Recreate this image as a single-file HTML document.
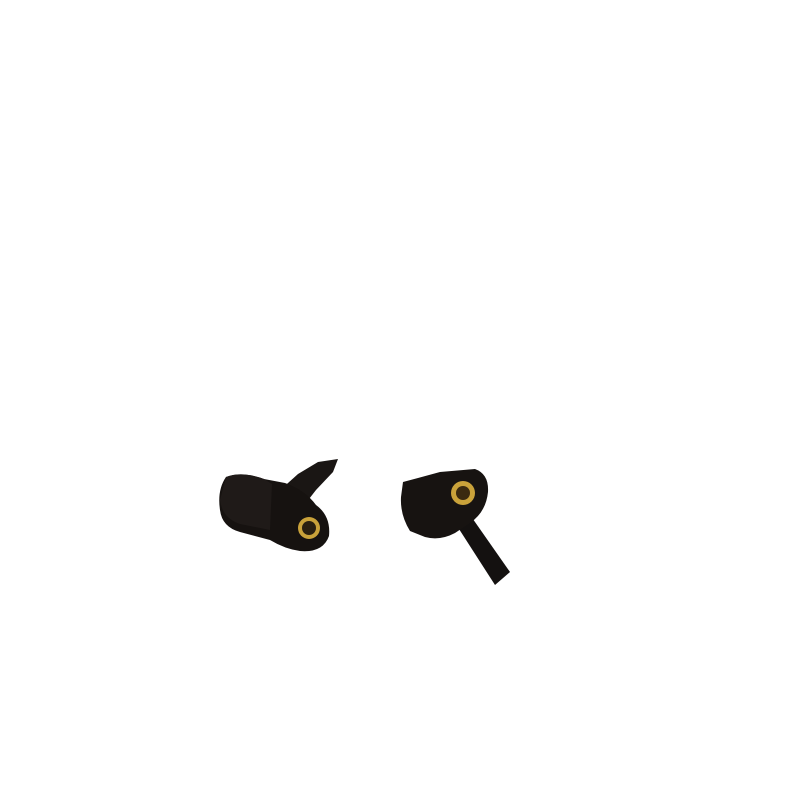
<!DOCTYPE html>
<html><head><style>html,body{margin:0;padding:0;background:#fff}</style></head>
<body>
<svg width="800" height="800" viewBox="0 0 800 800" xmlns="http://www.w3.org/2000/svg">
<rect width="800" height="800" fill="#fff"/>
<!-- left sensor cable -->
<path d="M278,492 L298,474 L318,462 L338,459 L333,472 L316,490 L302,508 Z" fill="#1a1614"/>
<!-- left sensor body -->
<path d="M226,477 Q242,471 264,479 L285,483 Q305,490 316,505 Q331,516 329,536 Q323,553 300,551 Q285,549 270,540 L240,532 Q222,527 220,510 Q217,490 226,477 Z" fill="#161210"/>
<path d="M226,477 Q242,471 264,479 L272,484 L270,530 L240,524 Q222,518 220,500 Z" fill="#1f1a18"/>
<circle cx="309" cy="528" r="11" fill="#c9a23a"/>
<circle cx="309" cy="528" r="7" fill="#2a2010"/>
<!-- right sensor stick -->
<path d="M450,515 L468,512 L510,572 L495,585 Z" fill="#141110"/>
<!-- right sensor body -->
<path d="M403,482 L418,478 L440,472 L475,469 Q489,474 488,492 Q486,512 470,523 L455,533 Q440,541 425,537 L410,531 Q400,515 401,497 Z" fill="#171311"/>
<circle cx="463" cy="493" r="12" fill="#c9a23a"/>
<circle cx="463" cy="493" r="7" fill="#3a2a10"/>
</svg>
</body></html>
